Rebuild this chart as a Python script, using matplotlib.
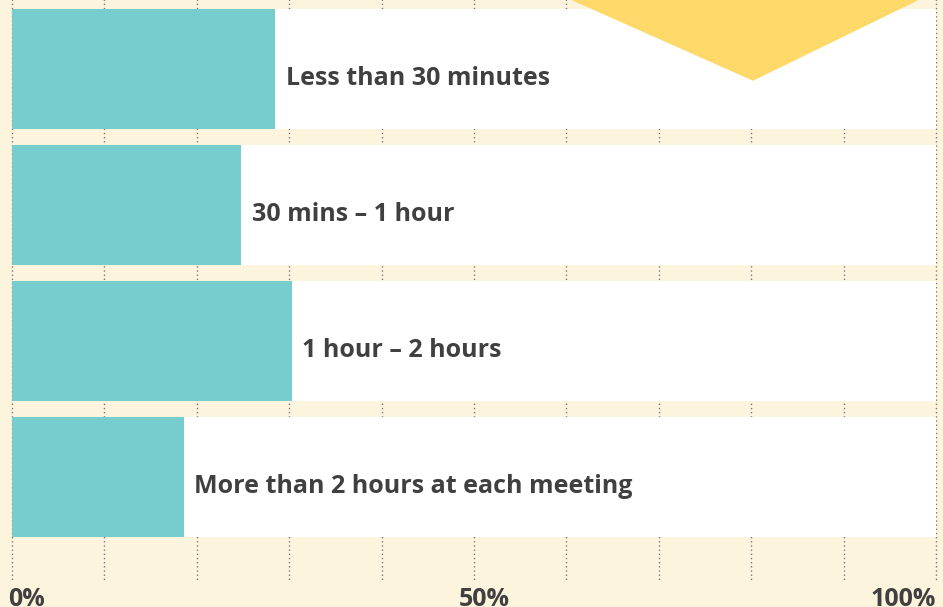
import matplotlib.pyplot as plt
from matplotlib.patches import Polygon

categories = ['Less than 30 minutes', '30 mins \u2013 1 hour', '1 hour \u2013 2 hours',
              'More than 2 hours at each meeting']
values = [28.5, 24.8, 30.3, 18.6]
tick_pos = [0, 50, 100]
tick_labels = ['0%', '50%', '100%']

cream = '#FDF4DE'
teal = '#77CCCD'
dark = '#404040'
plt.rcParams['font.family'] = ['Open Sans', 'DejaVu Sans']

fig = plt.figure(figsize=(9.43, 6.07), dpi=100, facecolor=cream)
ax = fig.add_axes([0, 0, 1, 1])
ax.set_facecolor(cream)
ax.set_xlim(-1.3, 100.76)
ax.set_ylim(3.956, -0.507)
ax.axis('off')

# dotted gridlines
ax.vlines(range(0, 101, 10), -0.6, 3.772, colors='#7a7a7a',
          linestyles=(0, (1, 2)), linewidth=1, zorder=1)

y = range(len(categories))
ax.barh(y, [100] * len(categories), height=0.882, left=0, color='white', zorder=2)
ax.barh(y, values, height=0.882, color=teal, zorder=3)

for i, (cat, v) in enumerate(zip(categories, values)):
    ax.annotate(cat, (v, i), xytext=(7.5, -11.5), textcoords='offset points',
                ha='left', va='baseline', fontsize=18, fontweight='bold',
                color=dark, zorder=4)

# x tick labels
ax.text(-0.45, 3.949, tick_labels[0], ha='left', va='baseline', fontsize=18,
        fontweight='bold', color=dark)
ax.text(51.1, 3.949, tick_labels[1], ha='center', va='baseline', fontsize=18,
        fontweight='bold', color=dark)
ax.text(100, 3.949, tick_labels[2], ha='right', va='baseline', fontsize=18,
        fontweight='bold', color=dark)

# decorative yellow pennant
tri = Polygon([[573 / 943, 1], [917 / 943, 1], [753 / 943, 1 - 80 / 607]],
              closed=True, transform=fig.transFigure, color='#FDD96A', zorder=10)
fig.patches.append(tri)

fig.savefig('out.png', dpi=100, facecolor=cream)
